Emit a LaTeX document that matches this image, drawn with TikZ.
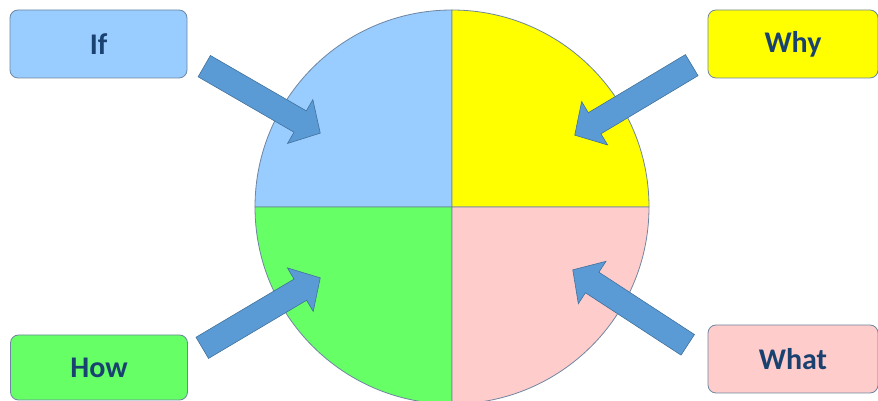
\documentclass[tikz,border=0pt]{standalone}
\usepackage{fontspec}
\setmainfont{Carlito}
\usepackage{xcolor}
\definecolor{ifblue}{HTML}{99CCFF}
\definecolor{whyyellow}{HTML}{FFFF00}
\definecolor{howgreen}{HTML}{66FF66}
\definecolor{whatpink}{HTML}{FFCCCC}
\definecolor{arrowblue}{HTML}{5B9BD5}
\definecolor{arrowrim}{HTML}{41719C}
\definecolor{rim}{HTML}{6E86A0}
\definecolor{ink}{HTML}{194270}
\usetikzlibrary{calc,shapes.arrows}
\tikzset{
  word/.style   ={draw=rim,line width=0.8pt,rounded corners=8pt,
                  text=ink,font=\fontsize{30}{36}\selectfont\bfseries,
                  minimum height=68pt,minimum width=177pt,inner sep=0pt},
  quarter/.style={draw=rim,line width=0.8pt},
  pointer/.style={single arrow,draw=arrowrim,fill=arrowblue,line width=0.6pt,
                  inner xsep=0pt,inner ysep=12pt,single arrow head extend=13pt,
                  single arrow tip angle=95},
}
\newcommand\blockarrow[2]{%
  \path let \p1=($(#2)-(#1)$), \n1={atan2(\y1,\x1)}, \n2={veclen(\x1,\y1)} in
    node[pointer,anchor=tail,rotate=\n1,minimum height=\n2] at (#1) {};}

\begin{document}
\begin{tikzpicture}[x=1pt,y=1pt]
\useasboundingbox (0,0) rectangle (878,401);
\clip (0,0) rectangle (878,401);
% circle in four quarters
\coordinate (c) at (452,194);
\filldraw[quarter,fill=ifblue]    (c) -- ++(180:197) arc (180:90:197) -- cycle;
\filldraw[quarter,fill=whyyellow] (c) -- ++(90:197)  arc (90:0:197)   -- cycle;
\filldraw[quarter,fill=howgreen]  (c) -- ++(180:197) arc (180:270:197) -- cycle;
\filldraw[quarter,fill=whatpink]  (c) -- ++(270:197) arc (270:360:197) -- cycle;
% arrow ends
\coordinate (if tail)   at (204,335); \coordinate (if tip)   at (320,268);
\coordinate (why tail)  at (692,336); \coordinate (why tip)  at (575,266);
\coordinate (how tail)  at (202,53);  \coordinate (how tip)  at (320,123);
\coordinate (what tail) at (688,56);  \coordinate (what tip) at (573,131);
\blockarrow{if tail}{if tip}
\blockarrow{why tail}{why tip}
\blockarrow{how tail}{how tip}
\blockarrow{what tail}{what tip}
% labels
\node[word,fill=ifblue]                       (if)   at (98.5,357) {If};
\node[word,fill=whyyellow,minimum width=170pt] (why)  at (793,357)  {Why};
\node[word,fill=howgreen,minimum height=65pt]  (how)  at (99,33.5)  {How};
\node[word,fill=whatpink,minimum width=170pt]  (what) at (793,42)   {What};
\end{tikzpicture}
\end{document}
